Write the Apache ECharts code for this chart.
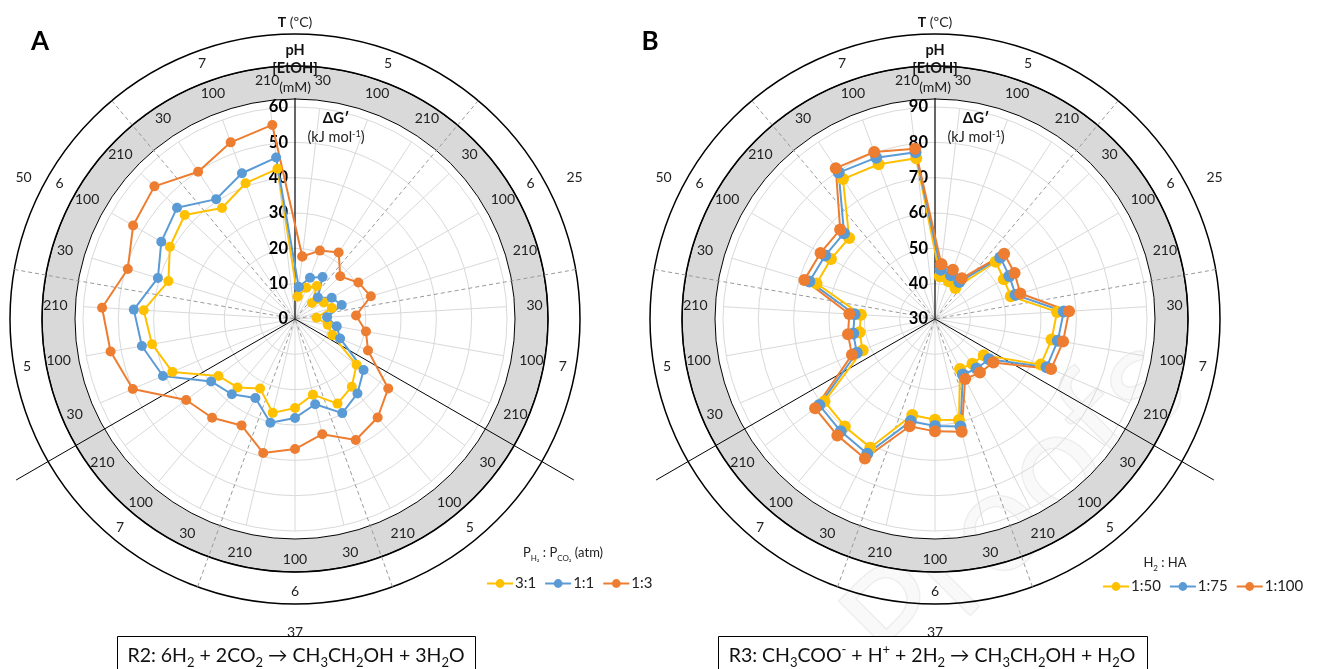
<!DOCTYPE html>
<html><head><meta charset="utf-8">
<script src="https://cdn.jsdelivr.net/npm/echarts@6/dist/echarts.min.js"></script>
<style>html,body{margin:0;padding:0;background:#fff}#c{width:1323px;height:669px}</style>
</head><body><div id="c"></div>
<script>
// ---- data ----
const tLabels = ['25', '37', '50'];
const phLabels = ['5', '6', '7'];
const etohLabels = ['30', '100', '210'];

const seriesNamesA = ['3:1', '1:1', '1:3'];
const seriesNamesB = ['1:50', '1:75', '1:100'];

const valuesA_3to1 = [6.4, 9.4, 11.2, 6.6, 9.4, 10.9, 6.1, 9.4, 11.5, 21.7, 25.0, 26.8, 22.0, 25.2, 27.3, 22.0, 25.3, 27.0, 37.8, 41.1, 42.9, 37.4, 40.9, 42.9, 37.6, 40.9, 42.8];
const valuesA_1to1 = [9.1, 12.4, 14.2, 8.9, 12.0, 13.8, 9.1, 12.0, 13.9, 24.2, 27.5, 29.8, 24.8, 28.0, 30.2, 25.0, 27.8, 29.6, 40.7, 44.0, 45.7, 40.5, 43.7, 45.9, 40.6, 43.9, 46.0];
const valuesA_1to3 = [17.8, 20.6, 22.5, 17.6, 20.7, 22.4, 17.3, 20.4, 22.5, 32.9, 36.4, 38.3, 33.5, 36.8, 39.0, 33.7, 36.5, 38.4, 50.0, 53.0, 54.7, 49.4, 52.9, 54.7, 49.9, 53.2, 55.3];

const valuesB_1to50 = [42.2, 41.4, 40.5, 53.6, 52.5, 52.4, 64.6, 63.5, 62.6, 47.2, 46.5, 45.8, 59.4, 58.5, 57.9, 70.8, 69.7, 69.0, 52.3, 51.7, 51.0, 65.0, 64.0, 63.4, 77.4, 76.6, 75.8];
const valuesB_1to75 = [44.1, 43.2, 42.5, 55.4, 54.3, 53.8, 66.5, 65.3, 64.4, 49.1, 48.3, 47.6, 61.3, 60.3, 59.7, 72.7, 71.5, 70.8, 54.1, 53.5, 52.8, 67.1, 65.9, 65.4, 79.6, 78.6, 77.5];
const valuesB_1to100 = [45.6, 44.8, 43.8, 56.9, 56.0, 55.2, 68.0, 66.8, 65.8, 50.6, 49.8, 49.0, 62.8, 61.8, 61.2, 74.2, 73.0, 72.3, 55.6, 55.0, 54.3, 68.6, 67.4, 66.9, 81.1, 80.3, 78.5];

const radialTicksA = { min: 0, max: 60, interval: 10 };
const radialTicksB = { min: 30, max: 90, interval: 10 };

// ---- derived categories ----
const categories = [];
tLabels.forEach(t => phLabels.forEach(p => etohLabels.forEach(e => categories.push('T' + t + '|pH' + p + '|' + e))));
const phRing = [];
tLabels.forEach(t => phLabels.forEach(p => phRing.push(p)));
const etohRing = categories.map(c => c.split('|')[2]);

const COLORS = ['#FFC000', '#5B9BD5', '#ED7D31'];
const FONT = 'Lato, "Open Sans", sans-serif';
const N = categories.length;
const NOLINE = 'rgba(0,0,0,0)';

const option = {
  animation: false,
  backgroundColor: '#fff',
  polar: [], angleAxis: [], radiusAxis: [], series: [], legend: [], graphic: []
};

// label nudges for the outer temperature ring (layout only): [shift down via empty line, left pad]
const tLabelNudge = [[true, 16], [false, 0], [true, 0]];

function addChart(idx, cx, cy, ticks, names, valueSets, symbolSize) {
  const b = idx * 5;
  option.polar.push(
    { center: [cx, cy], radius: 212 },
    { center: [cx, cy], radius: 212 },
    { center: [cx, cy], radius: 285 },
    { center: [cx, cy], radius: 322 },
    { center: [cx, cy], radius: 221 }
  );
  const hid = { axisLine: { show: false }, axisTick: { show: false }, axisLabel: { show: false } };
  option.angleAxis.push(
    { polarIndex: b, type: 'category', data: categories, startAngle: 90, boundaryGap: true, show: false },
    Object.assign({ polarIndex: b + 1, type: 'value', min: 0, max: N, interval: 1, startAngle: 90 - 180 / N, z: 1,
      splitLine: { show: true, lineStyle: { color: '#d9d9d9', width: 1 } } }, hid),
    Object.assign({ polarIndex: b + 2, type: 'value', min: 0, max: 360, interval: 40, startAngle: 90, z: 3,
      splitLine: { show: true, lineStyle: { color: [NOLINE, '#9a9a9a', '#9a9a9a'], type: [4, 3], width: 1 } } }, hid),
    Object.assign({ polarIndex: b + 3, type: 'value', min: 0, max: 360, interval: 120, startAngle: 90, z: 3,
      splitLine: { show: true, lineStyle: { color: [NOLINE, '#000', '#000'], width: 1 } } }, hid),
    Object.assign({ polarIndex: b + 4, type: 'value', min: 0, max: 360, interval: 120, startAngle: 90, z: 3,
      splitLine: { show: true, lineStyle: { color: ['#000', NOLINE, NOLINE], width: 1.2 } } }, hid)
  );
  option.radiusAxis.push(
    { polarIndex: b, type: 'value', min: ticks.min, max: ticks.max, interval: ticks.interval, z: 3,
      axisLine: { show: false },
      axisTick: { show: false },
      axisLabel: { color: '#000', fontWeight: 'bold', fontSize: 16.5, fontFamily: FONT, margin: 7 },
      splitLine: { show: true, lineStyle: { color: '#d9d9d9', width: 1 } } },
    { polarIndex: b + 1, type: 'value', show: false },
    { polarIndex: b + 2, type: 'value', show: false },
    { polarIndex: b + 3, type: 'value', show: false },
    { polarIndex: b + 4, type: 'value', show: false }
  );
  const ringBase = { type: 'pie', center: [cx, cy], silent: true, startAngle: 90, clockwise: true,
    emphasis: { disabled: true }, labelLine: { show: false }, avoidLabelOverlap: false };
  const lbl = { show: true, position: 'inside', formatter: '{b}', color: '#222', fontSize: 14, fontFamily: FONT };
  option.series.push(
    Object.assign({}, ringBase, { radius: [220, 253], z: 1, label: { show: false },
      itemStyle: { color: '#d9d9d9', borderColor: '#000', borderWidth: 1 }, data: [{ value: 1, name: 'band' }] }),
    Object.assign({}, ringBase, { radius: [253, 285], z: 1, label: { show: false },
      itemStyle: { color: NOLINE, borderColor: '#000', borderWidth: 1.5 }, data: [{ value: 1, name: 'ring' }] }),
    Object.assign({}, ringBase, { radius: [220, 254], z: 4, itemStyle: { color: NOLINE, borderWidth: 0 }, label: lbl,
      data: etohRing.map(n => ({ value: 1, name: n })) }),
    Object.assign({}, ringBase, { radius: [253, 285], z: 4, itemStyle: { color: NOLINE, borderWidth: 0 }, label: lbl,
      data: phRing.map(n => ({ value: 1, name: n })) }),
    Object.assign({}, ringBase, { radius: [285, 336], z: 4, itemStyle: { color: NOLINE, borderWidth: 0 },
      label: Object.assign({}, lbl, { lineHeight: 30,
        rich: { r: { color: '#222', fontSize: 14, fontFamily: FONT, lineHeight: 30 } } }),
      data: tLabels.map((n, i) => ({ value: 1, name: n, label: {
        formatter: (tLabelNudge[i][0] ? '\n' : '') + '{r|' + n + '}',
        rich: { r: { color: '#222', fontSize: 14, fontFamily: FONT, lineHeight: 30, padding: [0, 0, 0, tLabelNudge[i][1]] } } } })) })
  );
  valueSets.forEach((vals, i) => {
    const pts = vals.concat([vals[0]]).map((v, k) => [v, categories[k % N]]);
    option.series.push({
      type: 'line', name: names[i], coordinateSystem: 'polar', polarIndex: b, data: pts,
      symbol: 'circle', symbolSize: symbolSize, showSymbol: true, clip: false, z: 6,
      lineStyle: { color: COLORS[i], width: 2 }, itemStyle: { color: COLORS[i] }
    });
  });
  const g = option.graphic;
  const txt = (x, y, text, extra) => g.push({ type: 'text', z: 10, style: Object.assign({ x: x, y: y, text: text,
    fontFamily: FONT, fontSize: 14, fill: '#222', align: 'center', verticalAlign: 'middle' }, extra || {}) });
  txt(cx, 22, '{b|T} (ºC)', { rich: { b: { fontWeight: 'bold', fontSize: 14, fontFamily: FONT, fill: '#111' } } });
  txt(cx, 50, 'pH', { fontWeight: 'bold', fill: '#111', fontSize: 14.5 });
  txt(cx, 68, '[EtOH]', { fontWeight: 'bold', fill: '#111', fontSize: 14.5 });
  txt(cx, 87, '(mM)');
  txt(cx + 41, 118, 'ΔG′', { fontWeight: 'bold', fill: '#111', fontSize: 15 });
  txt(cx + 41, 137, '(kJ mol{sup|-1})', { fontSize: 14.5, rich: { sup: { fontSize: 9, verticalAlign: 'top', fontFamily: FONT, fill: '#222' } } });
}

addChart(0, 295, 319, radialTicksA, seriesNamesA, [valuesA_3to1, valuesA_1to1, valuesA_1to3], 10);
addChart(1, 935, 319, radialTicksB, seriesNamesB, [valuesB_1to50, valuesB_1to75, valuesB_1to100], 12);

const legendBase = { orient: 'horizontal', itemWidth: 26, itemHeight: 11, itemGap: 8, padding: 0,
  textStyle: { fontSize: 15, fontFamily: FONT, color: '#222', padding: [0, 0, 0, -3] } };
option.legend.push(Object.assign({}, legendBase, { data: seriesNamesA, left: 486, top: 576 }));
option.legend.push(Object.assign({}, legendBase, { data: seriesNamesB, left: 1102, top: 579 }));

const g = option.graphic;
g.push({ type: 'text', z: 10, style: { x: 40, y: 42, text: 'A', fontFamily: FONT, fontSize: 26, fontWeight: 'bold', fill: '#000', align: 'center', verticalAlign: 'middle' } });
g.push({ type: 'text', z: 10, style: { x: 650, y: 42, text: 'B', fontFamily: FONT, fontSize: 26, fontWeight: 'bold', fill: '#000', align: 'center', verticalAlign: 'middle' } });
const subRich = (fs) => ({ s: { fontSize: fs, verticalAlign: 'bottom', fontFamily: FONT, fill: '#222', lineHeight: fs },
  u: { fontSize: fs, verticalAlign: 'top', fontFamily: FONT, fill: '#222', lineHeight: fs } });
g.push({ type: 'text', z: 10, style: { x: 563, y: 553, text: 'P{s|H₂} : P{s|CO₂} (atm)', fontFamily: FONT, fontSize: 13, fill: '#222', align: 'center', verticalAlign: 'middle', lineHeight: 18, rich: subRich(8) } });
g.push({ type: 'text', z: 10, style: { x: 1165, y: 563, text: 'H{s|2} : HA', fontFamily: FONT, fontSize: 13, fill: '#222', align: 'center', verticalAlign: 'middle', lineHeight: 18, rich: subRich(8) } });
g.push({ type: 'rect', z: 10, shape: { x: 117.5, y: 636.5, width: 358, height: 50 }, style: { fill: '#fff', stroke: '#000', lineWidth: 1 } });
g.push({ type: 'rect', z: 10, shape: { x: 718.5, y: 636.5, width: 429, height: 50 }, style: { fill: '#fff', stroke: '#000', lineWidth: 1 } });
const boxRich = { s: { fontSize: 13, verticalAlign: 'bottom', lineHeight: 13, fontFamily: FONT, fill: '#111' },
  u: { fontSize: 13, verticalAlign: 'top', lineHeight: 13, fontFamily: FONT, fill: '#111' } };
g.push({ type: 'text', z: 11, style: { x: 296, y: 656, text: 'R2: 6H{s|2} + 2CO{s|2} → CH{s|3}CH{s|2}OH + 3H{s|2}O', fontFamily: FONT, fontSize: 19.5, lineHeight: 26, fill: '#111', align: 'center', verticalAlign: 'middle', rich: boxRich } });
g.push({ type: 'text', z: 11, style: { x: 932, y: 656, text: 'R3: CH{s|3}COO{u|-} + H{u|+} + 2H{s|2} → CH{s|3}CH{s|2}OH + H{s|2}O', fontFamily: FONT, fontSize: 19.5, lineHeight: 26, fill: '#111', align: 'center', verticalAlign: 'middle', rich: boxRich } });
g.push({ type: 'text', z: 0, x: 1015, y: 505, rotation: Math.PI / 4, style: { x: 0, y: 0, text: 'Proofs', fontFamily: FONT, fontSize: 145, fill: 'rgba(0,0,0,0.025)', stroke: 'rgba(0,0,0,0.06)', lineWidth: 1.5, align: 'center', verticalAlign: 'middle' } });

const chart = echarts.init(document.getElementById('c'), null, { renderer: 'canvas' });
chart.setOption(option);
</script></body></html>
